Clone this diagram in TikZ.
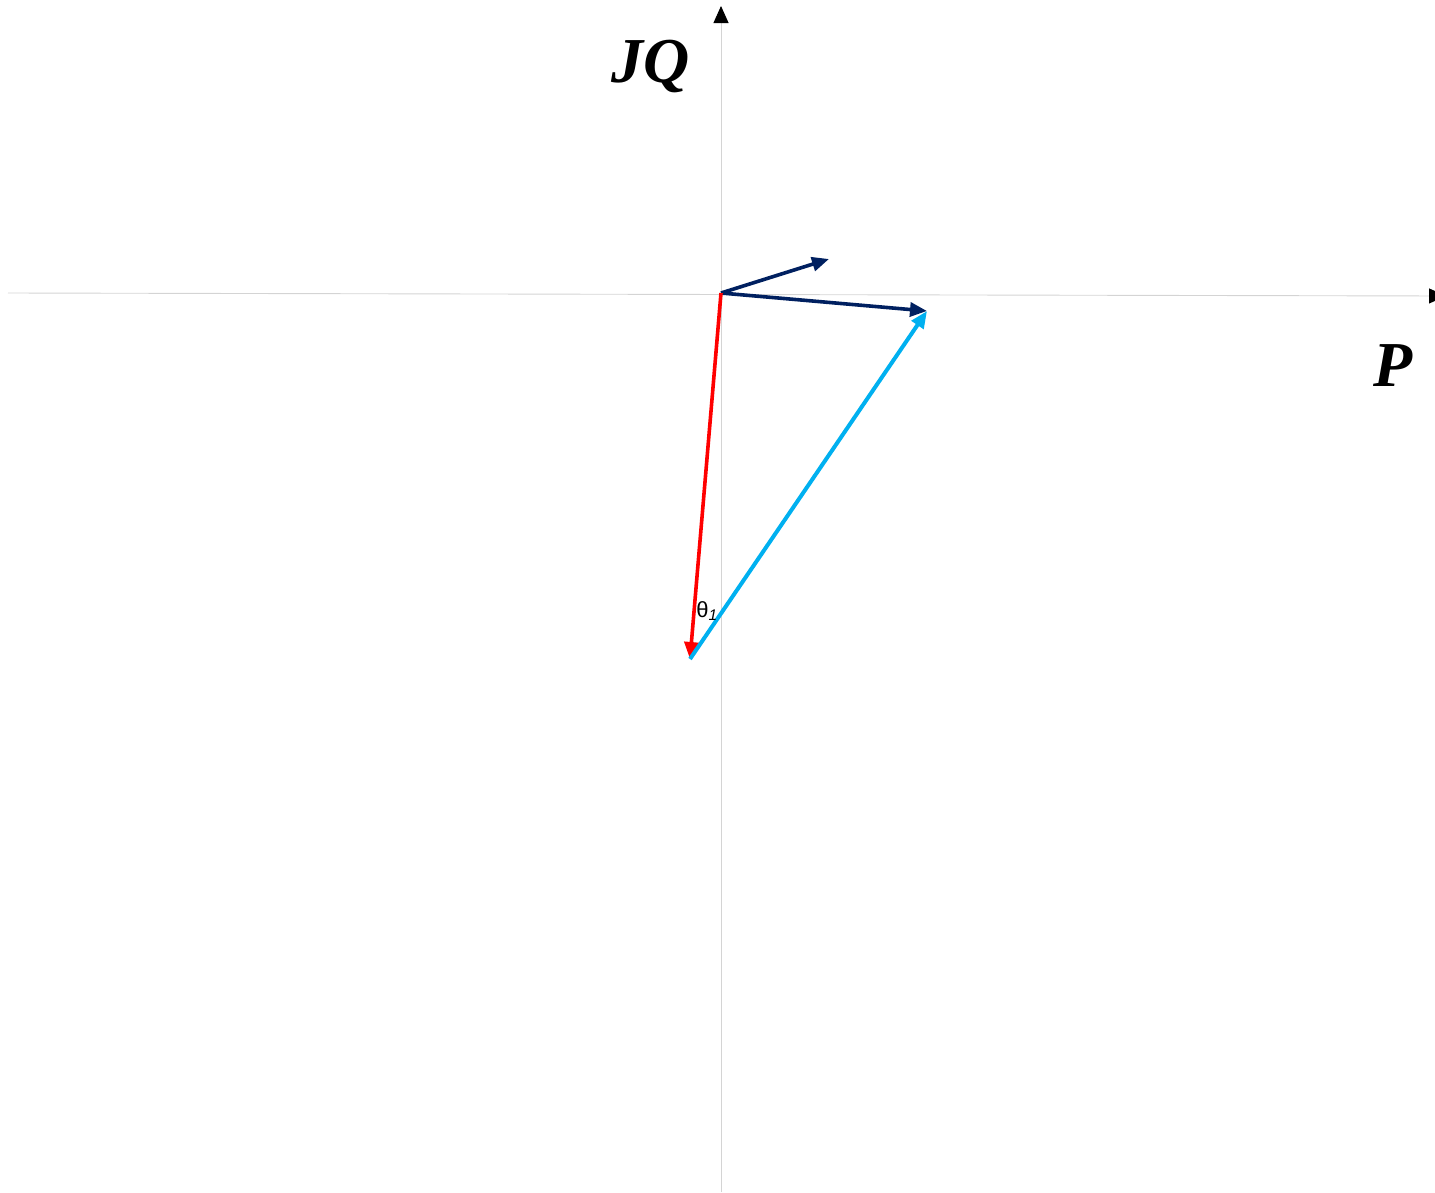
\documentclass[tikz,border=0pt]{standalone}
\usepackage{fontspec}
\setmainfont{Liberation Serif}
\newfontfamily\arialfont{Liberation Sans}
\usetikzlibrary{arrows.meta}
\definecolor{navy}{HTML}{002060}
\definecolor{vred}{HTML}{FF0000}
\definecolor{vcyan}{HTML}{00B0F0}
\definecolor{axisgray}{HTML}{D4D4D4}
\tikzset{
  axisline/.style={draw=axisgray, line width=0.9pt},
  axistip/.style={-{Triangle[length=17pt,width=15pt,color=black]}},
  vec/.style={line width=3.6pt, -{Triangle[length=17pt,width=14pt]}},
  axlabel/.style={font=\fontsize{64}{68}\selectfont\bfseries\itshape, inner sep=0pt},
}
\begin{document}
\begin{tikzpicture}[x=1pt,y=-1pt]
\useasboundingbox (0,0) rectangle (1435,1192);
\coordinate (O) at (721,293);
\coordinate (ybot) at (721,1192);
\coordinate (ytop) at (721,6);
\coordinate (xleft) at (8,293);
\coordinate (xright) at (1446,296);
\coordinate (A) at (829,259);
\coordinate (B) at (927,311);
\coordinate (C) at (690,659);
\draw[axisline, axistip] (ybot) -- (ytop);
\draw[axisline, axistip] (xleft) -- (xright);
\draw[vec, navy] (O) -- (A);
\draw[vec, navy] (O) -- (B);
\draw[vec, vred] (O) -- (C);
\draw[vec, vcyan, line width=4pt] (C) -- (B);
\node[axlabel] (JQ) at (651,66) {JQ};
\node[axlabel] (P) at (1393,366) {P};
\node[inner sep=0pt, font=\arialfont\fontsize{22}{24}\selectfont] (theta) at (707,611) {θ\textsubscript{\itshape 1}};
\end{tikzpicture}
\end{document}
